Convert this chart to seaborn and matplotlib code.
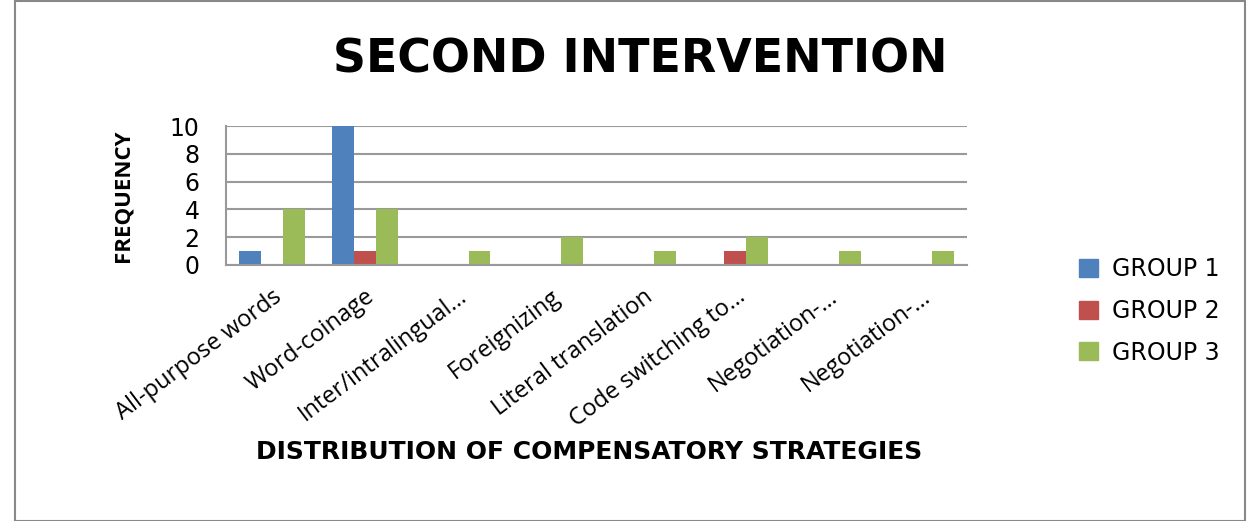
import matplotlib
matplotlib.use("Agg")
import matplotlib.pyplot as plt
import seaborn as sns
import pandas as pd
from matplotlib.patches import Rectangle

categories = ["All-purpose words", "Word-coinage", "Inter/intralingual…", "Foreignizing",
              "Literal translation", "Code switching to…", "Negotiation-…", "Negotiation-…"]
cat_keys = [f"c{i}" for i in range(len(categories))]
group1 = [1, 10, 0, 0, 0, 0, 0, 0]
group2 = [0, 1, 0, 0, 0, 1, 0, 0]
group3 = [4, 4, 1, 2, 1, 2, 1, 1]
series_names = ["GROUP 1", "GROUP 2", "GROUP 3"]
colors = ["#4F81BD", "#C0504D", "#9BBB59"]

rows = []
for name, vals in zip(series_names, [group1, group2, group3]):
    for k, v in zip(cat_keys, vals):
        rows.append({"cat": k, "group": name, "value": v})
df = pd.DataFrame(rows)

sns.set_style("white")
plt.rcParams["font.family"] = ["Open Sans", "DejaVu Sans"]
plt.rcParams["text.color"] = "black"
plt.rcParams["axes.labelcolor"] = "black"
plt.rcParams["xtick.color"] = "black"
plt.rcParams["ytick.color"] = "black"

fig = plt.figure(figsize=(12.58, 5.21), dpi=100)
ax = fig.add_axes([226/1258, 1-265/521, (967-226)/1258, (265-126)/521])
sns.barplot(data=df, x="cat", y="value", hue="group", palette=colors, order=cat_keys,
            hue_order=series_names, width=0.71, ax=ax, saturation=1, edgecolor="none")
ax.set_ylim(0, 10)
ax.set_yticks([0, 2, 4, 6, 8, 10])
ax.set_yticklabels(["0", "2", "4", "6", "8", "10"], fontsize=17, family="DejaVu Sans")
ax.tick_params(axis="y", length=0, pad=19)
ax.grid(axis="y", color="#999999", linewidth=1.5)
ax.set_axisbelow(True)
for s in ["top", "right"]:
    ax.spines[s].set_visible(False)
ax.spines["left"].set_color("#999999")
ax.spines["left"].set_linewidth(1.5)
ax.spines["bottom"].set_color("#999999")
ax.spines["bottom"].set_linewidth(1.5)
ax.set_xticks(range(len(categories)))
ax.set_xticklabels(categories, rotation=37, ha="right", rotation_mode="anchor", fontsize=17)
ax.tick_params(axis="x", length=0, pad=14)
ax.set_xlabel("DISTRIBUTION OF COMPENSATORY STRATEGIES", fontsize=18, fontweight="bold",
              family="DejaVu Sans")
ax.xaxis.set_label_coords(0.49, -1.26)
ax.set_ylabel("FREQUENCY", fontsize=16, fontweight="bold")
ax.yaxis.set_label_coords(-0.125, 0.5)
ax.legend_.remove()

handles = [Rectangle((0, 0), 1, 1, color=c) for c in colors]
fig.legend(handles, series_names, loc="upper left", bbox_to_anchor=(1058/1258, 1-236/521),
           frameon=False, handlelength=0.8, handleheight=0.8,
           labelspacing=0.75, handletextpad=0.6, prop={"family": "DejaVu Sans", "size": 17})

fig.text(640/1258, 1-60/521, "SECOND INTERVENTION", ha="center", va="center",
         fontsize=33, fontweight="bold", family="DejaVu Sans")

fig.patches.append(Rectangle((15/1258, 0), 1230/1258, 0.998, transform=fig.transFigure,
                             fill=False, edgecolor="#888888", linewidth=1.5))

fig.savefig("out.png", dpi=100)
